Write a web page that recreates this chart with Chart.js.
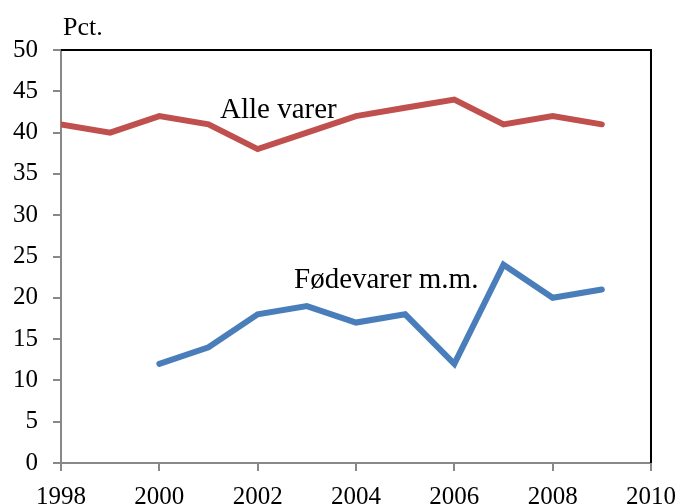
<!DOCTYPE html>
<html>
<head>
<meta charset="utf-8">
<script src="https://cdn.jsdelivr.net/npm/chart.js@4/dist/chart.umd.min.js"></script>
<style>
  html, body { margin: 0; padding: 0; background: #fff; }
  #wrap { width: 681px; height: 504px; }
</style>
</head>
<body>
<div id="wrap"><canvas id="chart" width="681" height="504"></canvas></div>
<script>
// data
const alleYears = [1998, 1999, 2000, 2001, 2002, 2003, 2004, 2005, 2006, 2007, 2008, 2009];
const alleValues = [41, 40, 42, 41, 38, 40, 42, 43, 44, 41, 42, 41];
const foedeYears = [2000, 2001, 2002, 2003, 2004, 2005, 2006, 2007, 2008, 2009];
const foedeValues = [12, 14, 18, 19, 17, 18, 12, 24, 20, 21];
const yTicks = [0, 5, 10, 15, 20, 25, 30, 35, 40, 45, 50];
const xTicks = [1998, 2000, 2002, 2004, 2006, 2008, 2010];

const serif = "'Liberation Serif', 'Times New Roman', serif";

// draws top/right frame and the text labels
const extras = {
  id: "extras",
  afterDraw(chart) {
    const ctx = chart.ctx;
    const a = chart.chartArea;
    ctx.save();
    ctx.strokeStyle = "#000";
    ctx.lineWidth = 2;
    ctx.beginPath();
    ctx.moveTo(a.left, a.top);
    ctx.lineTo(a.right, a.top);
    ctx.lineTo(a.right, a.bottom);
    ctx.stroke();
    ctx.fillStyle = "#000";
    ctx.textBaseline = "alphabetic";
    ctx.textAlign = "left";
    ctx.font = "26px " + serif;
    ctx.fillText("Pct.", 63, 35);
    ctx.font = "29px " + serif;
    ctx.fillText("Alle varer", 220, 118);
    ctx.fillText("Fødevarer m.m.", 294, 288);
    ctx.restore();
  }
};

new Chart(document.getElementById("chart"), {
  type: "line",
  data: {
    datasets: [
      {
        label: "Alle varer",
        data: alleYears.map((y, i) => ({ x: y, y: alleValues[i] })),
        borderColor: "#C0504D",
        borderWidth: 6,
        pointRadius: 0,
        tension: 0,
        borderCapStyle: "round"
      },
      {
        label: "Fødevarer m.m.",
        data: foedeYears.map((y, i) => ({ x: y, y: foedeValues[i] })),
        borderColor: "#4A7EBB",
        borderWidth: 6,
        pointRadius: 0,
        tension: 0,
        borderCapStyle: "round"
      }
    ]
  },
  options: {
    responsive: false,
    animation: false,
    layout: { padding: { left: 0, top: 50, right: 30, bottom: 0 } },
    plugins: { legend: { display: false }, tooltip: { enabled: false } },
    scales: {
      x: {
        type: "linear",
        min: 1998,
        max: 2010,
        afterBuildTicks: s => { s.ticks = xTicks.map(v => ({ value: v })); },
        afterFit: s => { s.height = 41; s.paddingLeft = 0; s.paddingRight = 0; },
        border: { color: "#888", width: 2 },
        grid: { drawOnChartArea: false, tickColor: "#888", tickLength: 8, lineWidth: 2 },
        ticks: { color: "#000", font: { family: serif, size: 25 }, padding: 11, maxRotation: 0, callback: v => String(v) }
      },
      y: {
        min: 0,
        max: 50,
        afterBuildTicks: s => { s.ticks = yTicks.map(v => ({ value: v })); },
        afterFit: s => { s.width = 61; s.paddingTop = 0; s.paddingBottom = 0; },
        border: { color: "#888", width: 2 },
        grid: { drawOnChartArea: false, tickColor: "#888", tickLength: 8, lineWidth: 2 },
        ticks: { color: "#000", font: { family: serif, size: 25 }, padding: 15 }
      }
    }
  },
  plugins: [extras]
});
</script>
</body>
</html>
